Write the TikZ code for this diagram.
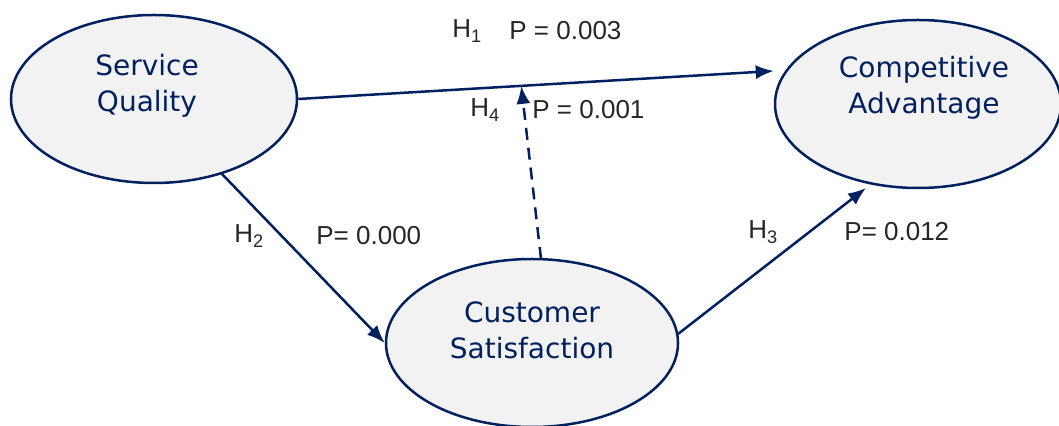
\documentclass[tikz,border=0pt]{standalone}
\usepackage{fontspec}
\setmainfont{Liberation Sans}
\newfontfamily\ovalfont{DejaVu Sans}
\usepackage{tikz}
\usetikzlibrary{shapes,arrows.meta,positioning,calc}
\definecolor{pathnavy}{RGB}{0,32,96}
\definecolor{ovalgray}{RGB}{242,242,242}

\begin{document}
\begin{tikzpicture}[x=0.5pt, y=-0.5pt,
    construct/.style={ellipse, draw=pathnavy, line width=1.25pt, fill=ovalgray,
        minimum width=143pt, minimum height=84pt, inner sep=0pt},
    constructtext/.style={font=\ovalfont\fontsize{14}{18}\selectfont, text=pathnavy, align=center},
    link/.style={draw=pathnavy, line width=1.25pt, -{Latex[length=9pt,width=7pt]}},
    hyp/.style={font=\fontsize{13}{15}\selectfont, text=black!85, anchor=west, inner sep=0pt}]
    \useasboundingbox (0,0) rectangle (1059,426);

    % constructs
    \node[construct] (sq) at (154,99) {};
    \node[constructtext] (sqtext) at ($(sq)+(-7,-13)$) {Service\\Quality};

    \node[construct] (ca) at (918,104) {};
    \node[constructtext] (catext) at ($(ca)+(6,-16)$) {Competitive\\Advantage};

    \node[construct, minimum width=146pt] (cs) at (532,343) {};
    \node[constructtext] (cstext) at ($(cs)+(0,-13)$) {Customer\\Satisfaction};

    % paths
    \draw[link] (sq.east) -- (ca.west |- 0,71) coordinate (h1end);
    \coordinate (h1mid) at ($(sq.east)!0.469!(h1end)$);
    \draw[link] (sq) ++(68,75) coordinate (h2start) -- (cs.west);
    \draw[link] (cs) ++(146,-9) coordinate (h3start) -- ($(ca)+(-52,84)$);
    \draw[link, dash pattern=on 6pt off 4pt] ($(cs)+(9,-84)$) coordinate (h4start) -- (h1mid);

    % hypothesis labels
    \node[hyp] (h1) at (452,31) {H\textsubscript{1}};
    \node[hyp] (p1) at (509,31) {P = 0.003};
    \node[hyp] (h4) at (470,110) {H\textsubscript{4}};
    \node[hyp] (p4) at (532,110) {P = 0.001};
    \node[hyp] (h2) at (234,236) {H\textsubscript{2}};
    \node[hyp] (p2) at (316,236) {P= 0.000};
    \node[hyp] (h3) at (748,232) {H\textsubscript{3}};
    \node[hyp] (p3) at (844,232) {P= 0.012};
\end{tikzpicture}
\end{document}
